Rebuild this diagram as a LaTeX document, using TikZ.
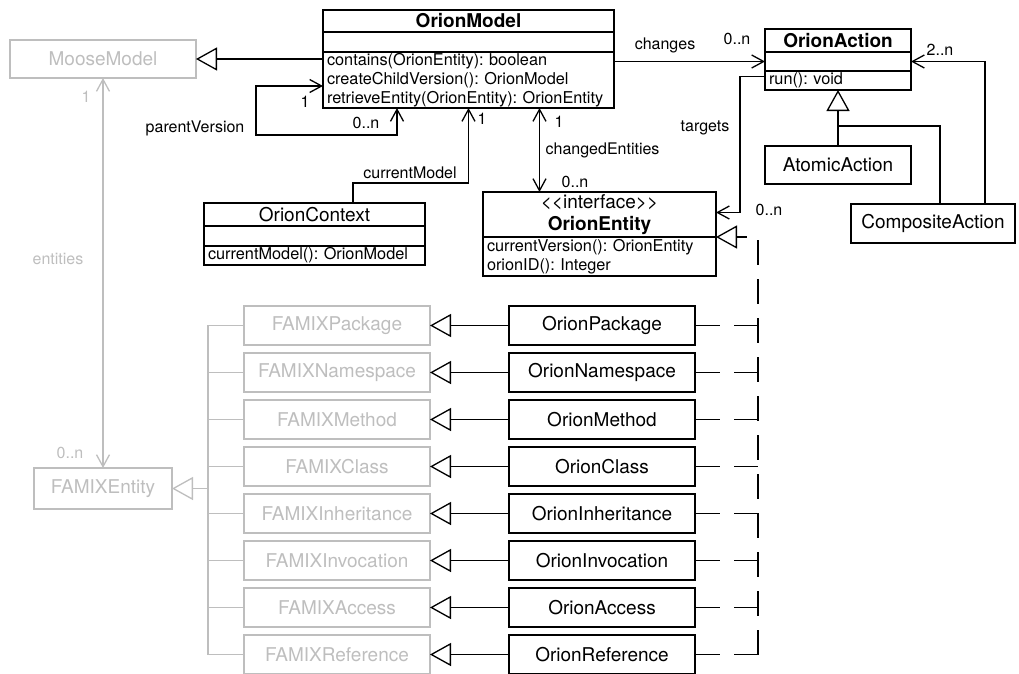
\documentclass[tikz,border=0pt]{standalone}
\usepackage{fontspec}
\setmainfont{TeX Gyre Heros}
\usetikzlibrary{arrows.meta, positioning}
\definecolor{famixgray}{RGB}{190,190,190}
\frenchspacing

\begin{document}
\begin{tikzpicture}[
    x=1pt, y=-1pt, line width=1.3pt,
    cls/.style={rectangle, draw, outer sep=0pt, inner sep=0pt,
        font=\fontsize{19}{22}\selectfont},
    ops/.style={rectangle, draw, outer sep=0pt, inner xsep=4pt, inner ysep=0pt,
        align=left, font=\fontsize{16.3}{19}\selectfont},
    orion/.style={cls, minimum width=186pt, minimum height=39pt},
    famix/.style={orion, draw=famixgray, text=famixgray},
    lbl/.style={inner sep=0pt, font=\fontsize{16}{19}\selectfont},
    inherit/.style={-{Triangle[open, length=21pt, width=23pt]}},
    assoc/.style={-{Straight Barb[length=12pt, width=13pt]}},
    biassoc/.style={{Straight Barb[length=12pt, width=13pt]}-{Straight Barb[length=12pt, width=13pt]}},
    realize/.style={dash pattern=on 25pt off 14pt}
]
    \useasboundingbox (0,0) rectangle (1019,673);
    \clip (0,0) rectangle (1019,673);

    % Nodes ------------------------------------------------------

    \node[cls, minimum width=291pt, minimum height=22pt, font=\fontsize{19}{22}\selectfont\bfseries] (om) at (468.5,21) {OrionModel};
    \node[cls, below=0pt of om, minimum width=291pt, minimum height=20pt] (om_attr) {};
    \node[ops, below=0pt of om_attr, text width=283pt, minimum height=56pt] (om_ops) {contains(OrionEntity): boolean\\createChildVersion(): OrionModel\\retrieveEntity(OrionEntity): OrionEntity};

    \node[cls, minimum width=146pt, minimum height=23pt, font=\fontsize{19}{22}\selectfont\bfseries] (oa) at (838,40.5) {OrionAction};
    \node[cls, below=0pt of oa, minimum width=146pt, minimum height=19pt] (oa_attr) {};
    \node[ops, below=0pt of oa_attr, text width=138pt, minimum height=19pt] (oa_ops) {run(): void};

    \node[orion, minimum width=146pt, minimum height=38pt] (aa) at (838,165) {AtomicAction};
    \node[orion, minimum width=164pt] (ca) at (933,223.5) {CompositeAction};

    \node[cls, minimum width=221pt, minimum height=23pt] (oc) at (314.5,214.5) {OrionContext};
    \node[cls, below=0pt of oc, minimum width=221pt, minimum height=20pt] (oc_attr) {};
    \node[ops, below=0pt of oc_attr, text width=213pt, minimum height=19pt] (oc_ops) {currentModel(): OrionModel};

    \node[cls, align=center, minimum width=233pt, minimum height=45pt] (oe) at (599.5,214.5) {{<}{<}interface{>}{>}\\\textbf{OrionEntity}};
    \node[ops, below=0pt of oe, text width=225pt, minimum height=39pt] (oe_ops) {currentVersion(): OrionEntity\\orionID(): Integer};

    \node[famix, minimum height=38pt] (mm) at (103,59) {MooseModel};
    \node[famix, minimum width=138pt, minimum height=41pt] (fe) at (103,488.5) {FAMIXEntity};

    % orion subclasses
    \node[orion] (o1) at (602,325.5) {OrionPackage};
    \node[orion, below=8pt of o1] (o2) {OrionNamespace};
    \node[orion, below=8pt of o2] (o3) {OrionMethod};
    \node[orion, below=8pt of o3] (o4) {OrionClass};
    \node[orion, below=8pt of o4] (o5) {OrionInheritance};
    \node[orion, below=8pt of o5] (o6) {OrionInvocation};
    \node[orion, below=8pt of o6] (o7) {OrionAccess};
    \node[orion, below=8pt of o7] (o8) {OrionReference};

    % famix classes
    \node[famix, left=79pt of o1] (f1) {FAMIXPackage};
    \node[famix, left=79pt of o2] (f2) {FAMIXNamespace};
    \node[famix, left=79pt of o3] (f3) {FAMIXMethod};
    \node[famix, left=79pt of o4] (f4) {FAMIXClass};
    \node[famix, left=79pt of o5] (f5) {FAMIXInheritance};
    \node[famix, left=79pt of o6] (f6) {FAMIXInvocation};
    \node[famix, left=79pt of o7] (f7) {FAMIXAccess};
    \node[famix, left=79pt of o8] (f8) {FAMIXReference};

    % labels
    \node[lbl] (l_changes) at (665,45) {changes};
    \node[lbl] (l_changes_m) at (737,39) {0..n};
    \node[lbl] (l_comp_m) at (940,50) {2..n};
    \node[lbl] (l_targets) at (705,128) {targets};
    \node[lbl] (l_targets_m) at (769,210) {0..n};
    \node[lbl] (l_changed_1) at (559,122) {1};
    \node[lbl, anchor=west] (l_changed) at (545,150) {changedEntities};
    \node[lbl] (l_changed_m) at (575,182) {0..n};
    \node[lbl] (l_current_1) at (482,119) {1};
    \node[lbl] (l_current) at (410,173) {currentModel};
    \node[lbl] (l_parent_1) at (305,102) {1};
    \node[lbl] (l_parent_m) at (366,123) {0..n};
    \node[lbl, anchor=east] (l_parent) at (245,128) {parentVersion};
    \node[lbl, text=famixgray] (l_ent_1) at (86,97) {1};
    \node[lbl, text=famixgray] (l_ent_m) at (70,453) {0..n};
    \node[lbl, text=famixgray] (l_ent) at (58,259) {entities};

    \coordinate (abranch) at (838,126);
    \coordinate (rl) at (758,237);
    \coordinate (tree) at (208,488.5);

    % Arrows ---------------------------------------------------

    \draw[inherit] (om_ops.west |- mm.east) -- (mm.east);
    \draw[assoc] (om_ops.east |- oa_attr.west) -- (oa_attr.west);
    \draw[assoc] ([xshift=52pt]ca.north) |- (oa_attr.east);
    \draw[inherit] (aa.north) -- (oa_ops.south);
    \draw ([xshift=7pt]ca.north) |- (abranch);
    \draw[assoc] ([yshift=4pt]oa_ops.west) -- ++(-25,0) |- ([yshift=2pt]oe.east);
    \draw[biassoc] ([xshift=-60pt]oe.north) -- ([xshift=-60pt]oe.north |- om_ops.south);
    \draw[assoc] ([xshift=38.5pt]oc.north) -- ++(0,-20) -| (om_ops.south);
    \draw[biassoc] ([xshift=-71.5pt]om_ops.south) -- ++(0,27) -- ++(-141,0) |- ([yshift=-6pt]om_ops.west);
    \draw[biassoc, famixgray] (mm.south) -- (fe.north);

    % famix tree
    \draw[inherit, famixgray] (tree) -- (fe.east);
    \draw[famixgray] (f1.west) -- ++(-36,0) |- (f8.west);
    \draw[famixgray] (f2.west) -- ++(-36,0);
    \draw[famixgray] (f3.west) -- ++(-36,0);
    \draw[famixgray] (f4.west) -- ++(-36,0);
    \draw[famixgray] (f5.west) -- ++(-36,0);
    \draw[famixgray] (f6.west) -- ++(-36,0);
    \draw[famixgray] (f7.west) -- ++(-36,0);

    \draw[inherit] (o1.west) -- (f1.east);
    \draw[inherit] (o2.west) -- (f2.east);
    \draw[inherit] (o3.west) -- (f3.east);
    \draw[inherit] (o4.west) -- (f4.east);
    \draw[inherit] (o5.west) -- (f5.east);
    \draw[inherit] (o6.west) -- (f6.east);
    \draw[inherit] (o7.west) -- (f7.east);
    \draw[inherit] (o8.west) -- (f8.east);

    % realization of OrionEntity
    \draw[realize] (o1.east) -- (o1.east -| rl);
    \draw[realize] (o2.east) -- (o2.east -| rl);
    \draw[realize] (o3.east) -- (o3.east -| rl);
    \draw[realize] (o4.east) -- (o4.east -| rl);
    \draw[realize] (o5.east) -- (o5.east -| rl);
    \draw[realize] (o6.east) -- (o6.east -| rl);
    \draw[realize] (o7.east) -- (o7.east -| rl);
    \draw[realize] (o8.east) -- (o8.east -| rl);
    \draw[realize, inherit] (o8.east -| rl) -- (rl) -- (oe.south east);

\end{tikzpicture}
\end{document}
